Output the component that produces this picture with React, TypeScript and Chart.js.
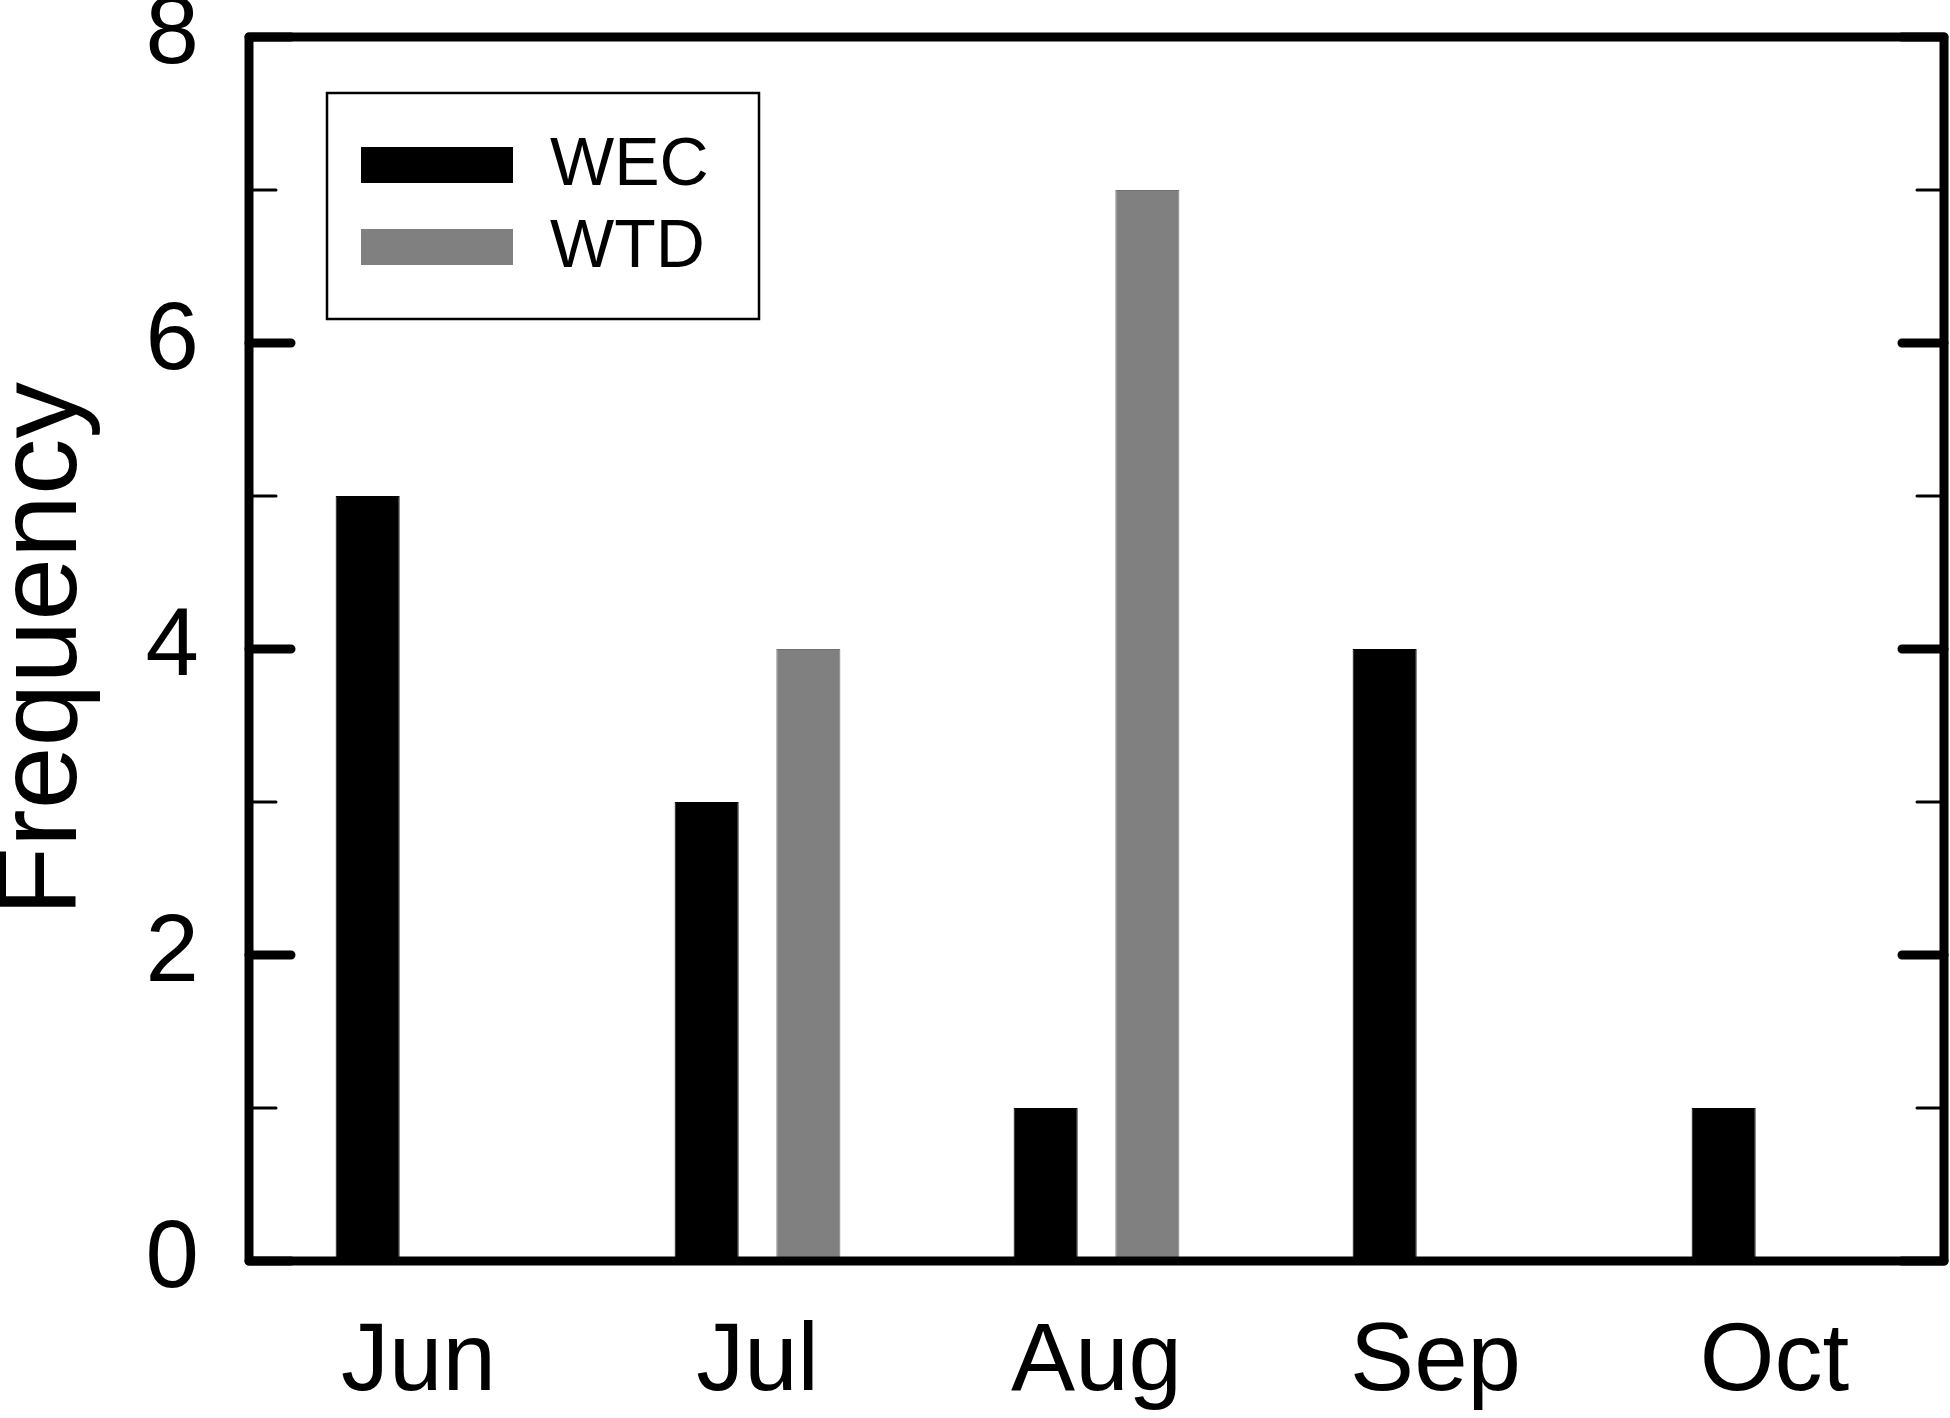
import React, { useEffect, useRef } from 'react';
import { Chart, registerables } from 'chart.js';

Chart.register(...registerables);

// data
const months = ['Jun', 'Jul', 'Aug', 'Sep', 'Oct'];
const wecValues = [5, 3, 1, 4, 1];
const wtdValues = [0, 4, 7, 0, 0];
const seriesNames = ['WEC', 'WTD'];
const seriesColors = ['#000000', '#808080'];

const FONT = "'Liberation Sans', Arial, Helvetica, sans-serif";

// frame with inward ticks on both sides
const framePlugin = {
  id: 'frame',
  afterDatasetsDraw(chart: any) {
    const { ctx, chartArea } = chart;
    const y = chart.scales.y;
    ctx.save();
    ctx.strokeStyle = '#000';
    ctx.lineCap = 'round';
    y.ticks.forEach((t: any) => {
      const py = y.getPixelForValue(t.value);
      const major = t.value % 2 === 0;
      const len = major ? 42 : 27;
      ctx.lineWidth = major ? 9 : 3;
      ctx.beginPath();
      ctx.moveTo(chartArea.left, py);
      ctx.lineTo(chartArea.left + len, py);
      ctx.moveTo(chartArea.right, py);
      ctx.lineTo(chartArea.right - len, py);
      ctx.stroke();
    });
    ctx.lineWidth = 9;
    ctx.lineJoin = 'round';
    ctx.strokeRect(chartArea.left, chartArea.top, chartArea.right - chartArea.left, chartArea.bottom - chartArea.top);
    ctx.restore();
  },
};

// boxed legend inside the plot
const legendPlugin = {
  id: 'boxLegend',
  afterDraw(chart: any) {
    const { ctx } = chart;
    ctx.save();
    ctx.fillStyle = '#fff';
    ctx.fillRect(327, 93, 432, 226);
    ctx.strokeStyle = '#000';
    ctx.lineWidth = 2.5;
    ctx.strokeRect(327, 93, 432, 226);
    ctx.font = `68px ${FONT}`;
    ctx.textBaseline = 'middle';
    chart.data.datasets.forEach((ds: any, i: number) => {
      const cy = 165 + i * 82;
      ctx.fillStyle = ds.backgroundColor;
      ctx.fillRect(361, cy - 18, 152, 36);
      ctx.fillStyle = '#000';
      ctx.fillText(ds.label, 550, cy + 1);
    });
    ctx.restore();
  },
};

const App: React.FC = () => {
  const canvasRef = useRef<HTMLCanvasElement>(null);

  useEffect(() => {
    if (!canvasRef.current) return;
    const chart = new Chart(canvasRef.current, {
      type: 'bar',
      data: {
        labels: months,
        datasets: [
          {
            label: seriesNames[0],
            data: wecValues,
            backgroundColor: seriesColors[0],
            borderColor: '#000',
            borderWidth: 1,
            barPercentage: 0.63,
            categoryPercentage: 0.6,
          },
          {
            label: seriesNames[1],
            data: wtdValues,
            backgroundColor: seriesColors[1],
            borderColor: '#707070',
            borderWidth: 1,
            barPercentage: 0.63,
            categoryPercentage: 0.6,
          },
        ],
      },
      options: {
        responsive: true,
        maintainAspectRatio: false,
        animation: false,
        devicePixelRatio: 1,
        layout: { padding: { top: 37, right: 6, left: 0, bottom: 0 } },
        plugins: {
          legend: { display: false },
          tooltip: { enabled: false },
        },
        scales: {
          x: {
            grid: { display: false, drawTicks: false },
            border: { display: false },
            ticks: {
              color: '#000',
              padding: 45,
              maxRotation: 0,
              font: { family: FONT, size: 96, lineHeight: 1.2 },
            },
            afterFit(scale: any) {
              scale.height = 157;
              scale.paddingLeft = 0;
              scale.paddingRight = 0;
            },
          },
          y: {
            min: 0,
            max: 8,
            grid: { display: false, drawTicks: false },
            border: { display: false },
            ticks: {
              stepSize: 1,
              autoSkip: false,
              color: '#000',
              padding: 50,
              font: { family: FONT, size: 96, lineHeight: 1.2 },
              callback: (v: any) => (Number(v) % 2 === 0 ? String(v) : ''),
            },
            title: {
              display: true,
              text: 'Frequency',
              color: '#000',
              padding: 0,
              font: { family: FONT, size: 113, lineHeight: 0.8 },
            },
            afterFit(scale: any) {
              scale.width = 249;
              scale.paddingTop = 0;
              scale.paddingBottom = 0;
            },
          },
        },
      },
      plugins: [framePlugin, legendPlugin],
    });
    return () => chart.destroy();
  }, []);

  return (
    <div style={{ position: 'absolute', left: 0, top: 0, width: 1950, height: 1418, background: '#fff' }}>
      <canvas ref={canvasRef}></canvas>
    </div>
  );
};

export default App;
